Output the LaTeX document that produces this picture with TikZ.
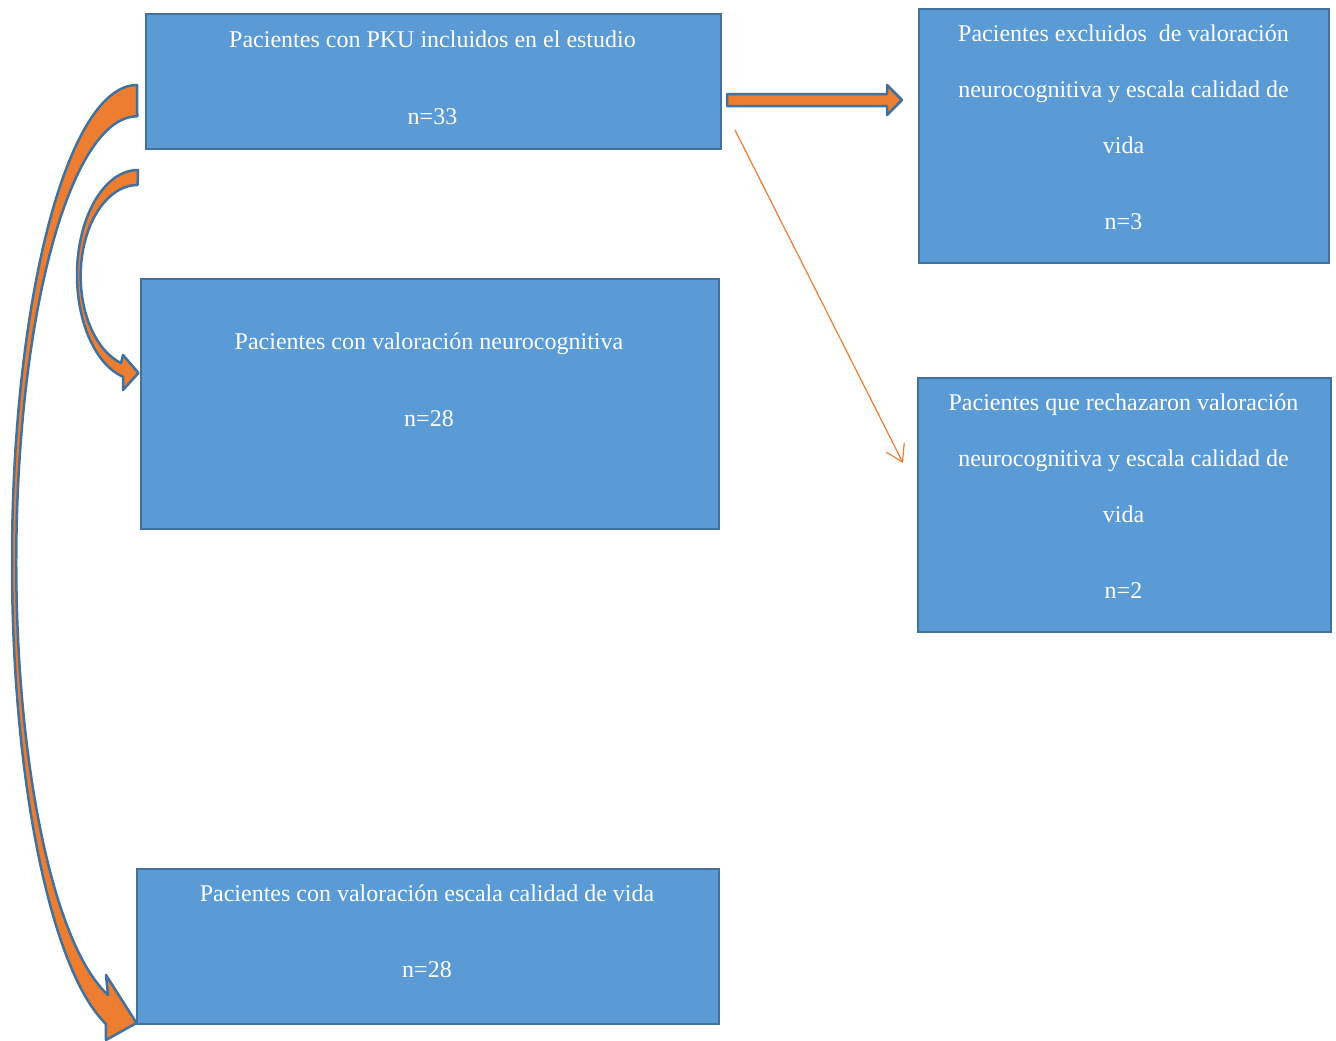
\documentclass[tikz,border=0pt]{standalone}
\usepackage{fontspec}
\setmainfont{Liberation Serif}
\usetikzlibrary{arrows.meta}
\definecolor{boxblue}{HTML}{5B9BD5}
\definecolor{edgeblue}{HTML}{41719C}
\definecolor{pkuorange}{HTML}{ED7D31}
\begin{document}
\begin{tikzpicture}[x=1pt, y=-1pt,
	pkubox/.style={rectangle, fill=boxblue, draw=edgeblue, line width=2pt, anchor=north west, inner sep=0pt},
	pkutext/.style={text=white, align=center, anchor=north, inner sep=0pt, font=\fontsize{24}{56}\selectfont},
	fatarrow/.style={fill=pkuorange, draw=edgeblue, line width=2.5pt, line join=round},
	thinarrow/.style={draw=pkuorange, line width=1.2pt, -{Straight Barb[length=16pt, width=20pt]}}]
	\useasboundingbox (0,0) rectangle (1336,1041);

	\node[pkubox, minimum width=575pt, minimum height=135pt](incl) at (145,13){};
	\node[pkubox, minimum width=410pt, minimum height=254pt](excl) at (918,8){};
	\node[pkubox, minimum width=578pt, minimum height=250pt](neuro) at (140,278){};
	\node[pkubox, minimum width=413pt, minimum height=254pt](rech) at (917,377){};
	\node[pkubox, minimum width=582pt, minimum height=155pt](vida) at (136,868){};

	\node[pkutext](incltext) at (432.5,30.2){Pacientes con PKU incluidos en el estudio\\[21pt] n=33};
	\node[pkutext](excltext) at (1123.5,25){Pacientes excluidos \ de valoración\\ neurocognitiva y escala calidad de\\ vida\\[20pt] n=3};
	\node[pkutext](neurotext) at (429,333){Pacientes con valoración neurocognitiva\\[21pt] n=28};
	\node[pkutext](rechtext) at (1123.5,394){Pacientes que rechazaron valoración\\ neurocognitiva y escala calidad de\\ vida\\[20pt] n=2};
	\node[pkutext](vidatext) at (427,885){Pacientes con valoración escala calidad de vida\\[20pt] n=28};

	\draw[fatarrow] (727,94) -- (887,94) -- (887,85) -- (902,100) -- (887,115) -- (887,106) -- (727,106) -- cycle;

	\coordinate (thinstart) at (735,130);
	\coordinate (thinend) at (903,463);
	\draw[thinarrow] (thinstart) -- (thinend);

	\draw[fatarrow] (138,170) arc[start angle=270, end angle=104.2, x radius=61, y radius=105]
		-- (123,390) -- (138.5,373) -- (123,355) -- (121,363)
		arc[start angle=107, end angle=270, x radius=57, y radius=91] -- cycle;

	\draw[fatarrow] (137,85) arc[start angle=270, end angle=104.4, x radius=125, y radius=477]
		-- (106,1040) -- (136.5,1023) -- (106,975) -- (108,995)
		arc[start angle=104, end angle=270, x radius=121, y radius=446] -- cycle;
\end{tikzpicture}
\end{document}
